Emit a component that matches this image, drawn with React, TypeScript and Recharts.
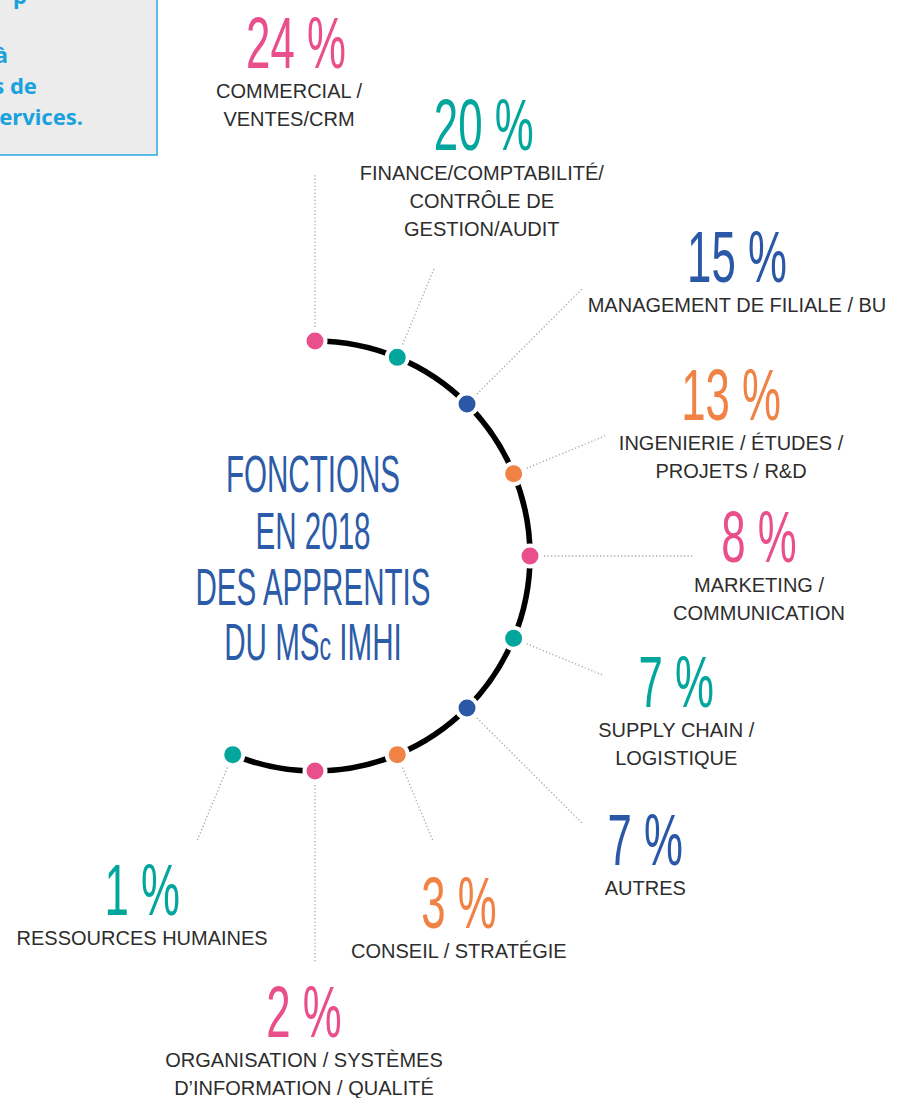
import { PieChart, Pie, Cell } from "recharts";

// fonctions des apprentis (ordre horaire, depuis le haut)
const CATEGORIES = [
  ["COMMERCIAL /", "VENTES/CRM"],
  ["FINANCE/COMPTABILITÉ/", "CONTRÔLE DE", "GESTION/AUDIT"],
  ["MANAGEMENT DE FILIALE / BU"],
  ["INGENIERIE / ÉTUDES /", "PROJETS / R&D"],
  ["MARKETING /", "COMMUNICATION"],
  ["SUPPLY CHAIN /", "LOGISTIQUE"],
  ["AUTRES"],
  ["CONSEIL / STRATÉGIE"],
  ["ORGANISATION / SYSTÈMES", "D’INFORMATION / QUALITÉ"],
  ["RESSOURCES HUMAINES"],
];
const PERCENTS = [24, 20, 15, 13, 8, 7, 7, 3, 2, 1];
const PALETTE = ["#e9508b", "#03a69c", "#2a58a6", "#f08245"];

const TITLE = ["FONCTIONS", "EN 2018", "DES APPRENTIS"];

// layout: leader end radius, offset of the label block from the leader end
const LABEL_LAYOUT = [
  { r: 381, dx: -26, dy: -107, pdx: 7 },
  { r: 313, dx: 47, dy: -117, pdx: 2 },
  { r: 379, dx: 154, dy: -6, pdx: 0 },
  { r: 314, dx: 126, dy: -16, pdx: 0 },
  { r: 378, dx: 66, dy: 6, pdx: 0 },
  { r: 312, dx: 73, dy: 32, pdx: 0 },
  { r: 378, dx: 63, dy: 42, pdx: 0 },
  { r: 308, dx: 26, dy: 87, pdx: 0 },
  { r: 407, dx: -11, dy: 74, pdx: 0 },
  { r: 308, dx: -55, dy: 74, pdx: 0 },
];

const W = 915;
const H = 1098;
const CX = 315;
const CY = 556;
const R = 215;
const START = 90;
const STEP = 22.5;

const dotData = CATEGORIES.map((c, i) => ({ name: c.join(" "), value: 1, pct: PERCENTS[i] }));
const arcData = CATEGORIES.slice(1).map((c, i) => ({ name: "arc" + i, value: 1 }));

const RAD = Math.PI / 180;
const polar = (cx: number, cy: number, r: number, a: number) => ({
  x: cx + r * Math.cos(-a * RAD),
  y: cy + r * Math.sin(-a * RAD),
});

const NUM_FONT = "'Liberation Sans', Arial, sans-serif";

function renderLabel(props: any) {
  const { cx, cy, midAngle, index } = props;
  const lay = LABEL_LAYOUT[index];
  const color = PALETTE[index % PALETTE.length];
  const dot = polar(cx, cy, R, midAngle);
  const p0 = polar(cx, cy, R + 14, midAngle);
  const p1 = polar(cx, cy, lay.r, midAngle);
  const tx = p1.x + lay.dx;
  const ty = p1.y + lay.dy;
  return (
    <g key={"lbl" + index}>
      <line x1={p0.x} y1={p0.y} x2={p1.x} y2={p1.y} stroke="#a8a8a8" strokeWidth={1.3} strokeDasharray="1.3 2.2" />
      <circle cx={dot.x} cy={dot.y} r={10.5} fill={color} stroke="#fff" strokeWidth={4} />
      <text
        transform={`translate(${tx + lay.pdx},${ty}) scale(0.6,1)`}
        textAnchor="middle"
        fontFamily={NUM_FONT}
        fontSize={73}
        fill={color}
      >
        {PERCENTS[index] + " %"}
      </text>
      {CATEGORIES[index].map((line, i) => (
        <text
          key={i}
          x={tx}
          y={ty + 30 + 28 * i}
          textAnchor="middle"
          fontFamily={NUM_FONT}
          fontSize={20}
          fill="#2d2d2d"
        >
          {line}
        </text>
      ))}
    </g>
  );
}

export default function App() {
  const titleBlue = "#2c5ba7";
  return (
    <div style={{ position: "absolute", left: 0, top: 0, width: W, height: H, background: "#fff", overflow: "hidden" }}>
      {/* encadré coupé en haut à gauche */}
      <svg width={W} height={H} style={{ position: "absolute", left: 0, top: 0 }}>
        <rect x={-20} y={-20} width={177} height={175} fill="#ececec" stroke="#29a9e1" strokeWidth={1.5} />
        <g fontFamily="'Noto Sans', sans-serif" fontWeight={700} fontSize={22} fill="#1ba1dd" textAnchor="end">
          <text x={27} y={4}>p</text>
          <text x={8} y={63}>à</text>
          <text x={37} y={94}>s de</text>
          <text x={83} y={125}>ervices.</text>
        </g>
      </svg>
      <div style={{ position: "absolute", left: 0, top: 0 }}>
        <PieChart width={W} height={H} margin={{ top: 0, right: 0, bottom: 0, left: 0 }}>
          <Pie
            data={arcData}
            dataKey="value"
            cx={CX}
            cy={CY}
            startAngle={START}
            endAngle={START - STEP * arcData.length}
            innerRadius={R - 2.8}
            outerRadius={R + 2.8}
            stroke="none"
            isAnimationActive={false}
          >
            {arcData.map((d) => (
              <Cell key={d.name} fill="#000" />
            ))}
          </Pie>
          <Pie
            data={dotData}
            dataKey="value"
            cx={CX}
            cy={CY}
            startAngle={START + STEP / 2}
            endAngle={START + STEP / 2 - STEP * dotData.length}
            innerRadius={R}
            outerRadius={R}
            stroke="none"
            fill="none"
            label={renderLabel}
            labelLine={false}
            isAnimationActive={false}
          />
        </PieChart>
      </div>
      <svg width={W} height={H} style={{ position: "absolute", left: 0, top: 0, pointerEvents: "none" }}>
        <g fontFamily={NUM_FONT} fontSize={51} fill={titleBlue} textAnchor="middle">
          {TITLE.map((t, i) => (
            <text key={t} transform={`translate(${CX - 2},${CY - 64 + 56.5 * i}) scale(0.58,1)`}>
              {t}
            </text>
          ))}
          <text transform={`translate(${CX - 2},${CY + 104}) scale(0.58,1)`}>
            DU MS<tspan fontSize={40}>c</tspan> IMHI
          </text>
        </g>
      </svg>
    </div>
  );
}
